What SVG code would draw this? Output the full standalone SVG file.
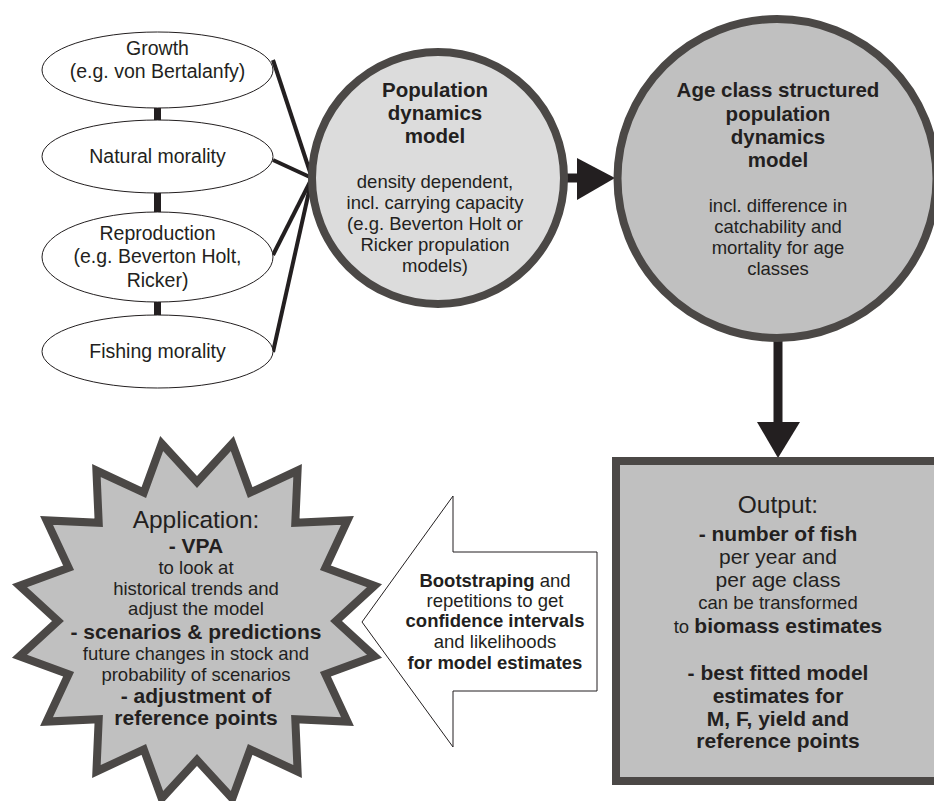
<svg xmlns="http://www.w3.org/2000/svg" width="934" height="801" viewBox="0 0 934 801">
<defs>
<style>
text{font-family:"Liberation Sans",Arial,sans-serif;fill:#231f20;text-anchor:middle}
.t{font-size:19.5px}
.b{font-size:20.5px;font-weight:bold}
.s{font-size:18.5px}
.sb{font-size:18.5px;font-weight:bold}
.big{font-size:24.5px}
.ob{font-size:21px;font-weight:bold}
.or{font-size:21px}
.ell{fill:#fff;stroke:#231f20;stroke-width:1}
.thick{fill:#c0c0c0;stroke:#4b4846;stroke-width:8}
.ln{stroke:#231f20;stroke-width:4;fill:none}
.bar{fill:#231f20}
</style>
</defs>
<g id="connectors">
<rect class="bar" x="154" y="106" width="7" height="16"/>
<rect class="bar" x="154" y="191" width="7" height="23"/>
<rect class="bar" x="154" y="300" width="7" height="17"/>
<line class="ln" x1="273" y1="60" x2="312" y2="178"/>
<line class="ln" x1="273" y1="160" x2="312" y2="178"/>
<line class="ln" x1="273" y1="255" x2="312" y2="178"/>
<line class="ln" x1="273" y1="352" x2="312" y2="178"/>
<line x1="566" y1="178" x2="580" y2="178" stroke="#231f20" stroke-width="9"/>
<polygon points="577,158 615,178 577,200" fill="#231f20"/>
<line x1="778" y1="338" x2="778" y2="424" stroke="#231f20" stroke-width="9"/>
<polygon points="757,422 800,422 778,458" fill="#231f20"/>
</g>
<g id="growth">
<ellipse class="ell" cx="157.5" cy="70" rx="115.5" ry="38"/>
<text class="t" x="157.5" y="55">Growth</text>
<text class="t" x="157.5" y="78">(e.g. von Bertalanfy)</text>
</g>
<g id="natural">
<ellipse class="ell" cx="157.5" cy="156.5" rx="115.5" ry="36.5"/>
<text class="t" x="157.5" y="163">Natural morality</text>
</g>
<g id="reproduction">
<ellipse class="ell" cx="157.5" cy="257" rx="115.5" ry="45"/>
<text class="t" x="157.5" y="240">Reproduction</text>
<text class="t" x="157.5" y="263">(e.g. Beverton Holt,</text>
<text class="t" x="157.5" y="287">Ricker)</text>
</g>
<g id="fishing">
<ellipse class="ell" cx="157.5" cy="351.5" rx="115.5" ry="36.5"/>
<text class="t" x="157.5" y="358">Fishing morality</text>
</g>
<g id="popdyn">
<circle cx="438" cy="178" r="126" fill="#dcdcdc" stroke="#4b4846" stroke-width="8"/>
<text class="b" x="435" y="97">Population</text>
<text class="b" x="435" y="120">dynamics</text>
<text class="b" x="435" y="143">model</text>
<text class="s" x="435" y="188">density dependent,</text>
<text class="s" x="435" y="209">incl. carrying capacity</text>
<text class="s" x="435" y="230">(e.g. Beverton Holt or</text>
<text class="s" x="435" y="251">Ricker propulation</text>
<text class="s" x="435" y="272">models)</text>
</g>
<g id="ageclass">
<circle class="thick" cx="777" cy="178.5" r="159.5"/>
<text class="b" x="778" y="97">Age class structured</text>
<text class="b" x="778" y="121">population</text>
<text class="b" x="778" y="144">dynamics</text>
<text class="b" x="778" y="167">model</text>
<text class="s" x="778" y="212">incl. difference in</text>
<text class="s" x="778" y="233">catchability and</text>
<text class="s" x="778" y="254">mortality for age</text>
<text class="s" x="778" y="275">classes</text>
</g>
<g id="output">
<rect class="thick" x="616" y="461" width="330" height="320"/>
<text class="big" x="778" y="513">Output:</text>
<text class="ob" x="778" y="541">- number of fish</text>
<text class="or" x="778" y="564">per year and</text>
<text class="or" x="778" y="587">per age class</text>
<text class="s" x="778" y="609">can be transformed</text>
<text x="778" y="633"><tspan class="s">to </tspan><tspan class="ob">biomass estimates</tspan></text>
<text class="ob" x="778" y="680">- best fitted model</text>
<text class="ob" x="778" y="703">estimates for</text>
<text class="ob" x="778" y="726">M, F, yield and</text>
<text class="ob" x="778" y="748">reference points</text>
</g>
<g id="bootstrap">
<polygon points="362,622 453,496 453,552 597,552 597,691 453,691 453,747" fill="#fff" stroke="#231f20" stroke-width="1"/>
<text x="495" y="587"><tspan class="sb">Bootstraping</tspan><tspan class="s"> and</tspan></text>
<text class="s" x="495" y="607">repetitions to get</text>
<text class="sb" x="495" y="627">confidence intervals</text>
<text class="s" x="495" y="648">and likelihoods</text>
<text class="sb" x="495" y="669">for model estimates</text>
</g>
<g id="application">
<polygon class="thick" points="197,482 232.3,443.5 250.2,492.6 297.6,470.5 295.3,522.7 347.5,520.4 325.4,567.8 374.5,585.7 336,621 374.5,656.3 325.4,674.2 347.5,721.6 295.3,719.3 297.6,771.5 250.2,749.4 232.3,798.5 197,760 161.7,798.5 143.8,749.4 96.4,771.5 98.7,719.3 46.5,721.6 68.6,674.2 19.5,656.3 58,621 19.5,585.7 68.6,567.8 46.5,520.4 98.7,522.7 96.4,470.5 143.8,492.6 161.7,443.5"/>
<text class="big" x="196" y="528">Application:</text>
<text class="ob" x="196" y="553">- VPA</text>
<text class="s" x="196" y="574">to look at</text>
<text class="s" x="196" y="595">historical trends and</text>
<text class="s" x="196" y="615">adjust the model</text>
<text class="ob" x="196" y="639">- scenarios &amp; predictions</text>
<text class="s" x="196" y="660">future changes in stock and</text>
<text class="s" x="196" y="681">probability of scenarios</text>
<text class="ob" x="196" y="703">- adjustment of</text>
<text class="ob" x="196" y="725">reference points</text>
</g>
</svg>
